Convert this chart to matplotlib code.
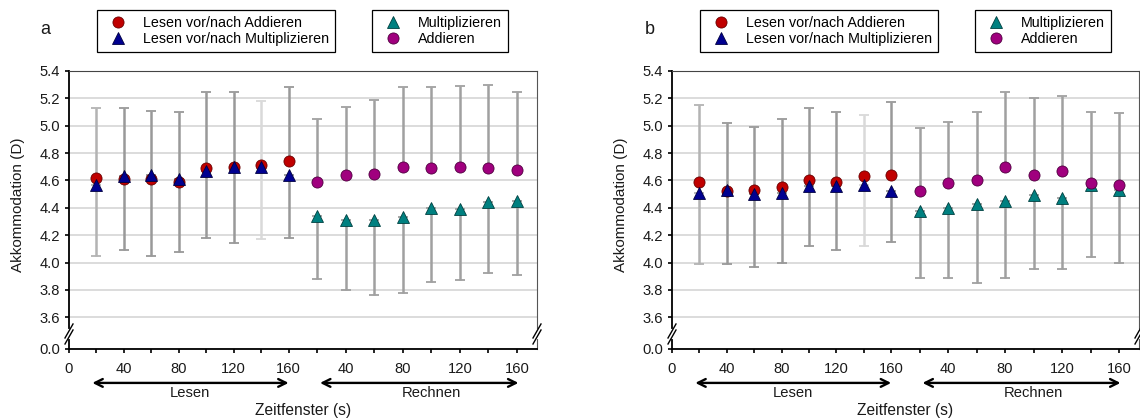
import numpy as np
import matplotlib
matplotlib.use("Agg")
import matplotlib.pyplot as plt
from matplotlib.lines import Line2D
from matplotlib.ticker import FixedLocator, FixedFormatter

plt.rcParams['font.family'] = ['Liberation Sans', 'DejaVu Sans']

# time windows (s); Rechnen follows after the 160 s of Lesen on the same axis
lesen_t = [20, 40, 60, 80, 100, 120, 140, 160]
rechnen_t = [20, 40, 60, 80, 100, 120, 140, 160]
rechnen_x = [160 + t for t in rechnen_t]

# panel a
a_les_add = [4.62, 4.61, 4.61, 4.59, 4.69, 4.70, 4.71, 4.74]
a_les_mul = [4.57, 4.63, 4.64, 4.61, 4.67, 4.70, 4.70, 4.64]
a_les_hi = [5.13, 5.13, 5.11, 5.10, 5.25, 5.25, 5.18, 5.28]
a_les_lo = [4.05, 4.09, 4.05, 4.08, 4.18, 4.14, 4.17, 4.18]
a_mul = [4.34, 4.31, 4.31, 4.33, 4.40, 4.39, 4.44, 4.45]
a_add = [4.59, 4.64, 4.65, 4.70, 4.69, 4.70, 4.69, 4.68]
a_rech_hi = [5.05, 5.14, 5.19, 5.28, 5.28, 5.29, 5.30, 5.25]
a_rech_lo = [3.88, 3.80, 3.76, 3.78, 3.86, 3.87, 3.92, 3.91]

# panel b
b_les_add = [4.59, 4.52, 4.53, 4.55, 4.60, 4.59, 4.63, 4.64]
b_les_mul = [4.51, 4.53, 4.50, 4.51, 4.56, 4.56, 4.57, 4.52]
b_les_hi = [5.15, 5.02, 4.99, 5.05, 5.13, 5.10, 5.08, 5.17]
b_les_lo = [3.99, 3.99, 3.97, 4.00, 4.12, 4.09, 4.12, 4.15]
b_mul = [4.38, 4.40, 4.43, 4.45, 4.49, 4.47, 4.57, 4.53]
b_add = [4.52, 4.58, 4.60, 4.70, 4.64, 4.67, 4.58, 4.57]
b_rech_hi = [4.98, 5.03, 5.10, 5.25, 5.20, 5.22, 5.10, 5.09]
b_rech_lo = [3.89, 3.89, 3.85, 3.89, 3.95, 3.95, 4.04, 4.00]

x_ticks = [0, 20, 40, 60, 80, 100, 120, 140, 160, 180, 200, 220, 240, 260, 280, 300, 320]
x_labels = ['0', '', '40', '', '80', '', '120', '', '160', '', '40', '', '80', '', '120', '', '160']
y_ticks = [0.0, 3.6, 3.8, 4.0, 4.2, 4.4, 4.6, 4.8, 5.0, 5.2, 5.4]

C_RED = '#c00000'
C_BLUE = '#000090'
C_TEAL = '#008080'
C_MAG = '#a0007e'
C_TXT = '#1a1a1a'
FS = 10.3


# the Rechnen part of the original axis is drawn a little wider
def x_fwd(x):
    x = np.asarray(x, float)
    return np.where(x <= 160, x, 160 + (x - 160) * 1.04)


def x_inv(v):
    v = np.asarray(v, float)
    return np.where(v <= 160, v, 160 + (v - 160) / 1.04)


# broken y axis: 0.0 squeezed in just below 3.6
def y_fwd(y):
    y = np.asarray(y, float)
    return np.where(y >= 3.5, y, 3.368 + y * 0.132 / 3.5)


def y_inv(v):
    v = np.asarray(v, float)
    return np.where(v >= 3.5, v, (v - 3.368) * 3.5 / 0.132)


def up_bars(ax, x, y, hi, colors):
    for xi, yi, hv, c in zip(x, y, hi, colors):
        ax.errorbar(xi, yi, yerr=[[0], [hv - yi]], fmt='none', ecolor=c,
                    elinewidth=1.8, capsize=3.5, capthick=1.3, zorder=2)


def down_bars(ax, x, y, lo, colors):
    for xi, yi, lv, c in zip(x, y, lo, colors):
        ax.errorbar(xi, yi, yerr=[[yi - lv], [0]], fmt='none', ecolor=c,
                    elinewidth=1.8, capsize=3.5, capthick=1.3, zorder=2)


def draw_break(ax, xf):
    y0 = 0.054
    dx, dy = 4 / 468, 7 / 278
    gap = 3 / 278
    ax.plot([xf, xf], [y0 - gap, y0 + gap], color='white', lw=3,
            transform=ax.transAxes, clip_on=False, zorder=6)
    for off in (-gap, gap):
        ax.plot([xf - dx, xf + dx], [y0 + off - dy, y0 + off + dy], color='black',
                lw=1, transform=ax.transAxes, clip_on=False, zorder=7)


def make_panel(ax, les_add, les_mul, les_hi, les_lo, mul, add, rech_hi, rech_lo):
    ax.set_xscale('function', functions=(x_fwd, x_inv))
    ax.set_yscale('function', functions=(y_fwd, y_inv))

    les_cols = ['#b3b3b3', '#999999', '#999999', '#999999', '#999999', '#999999', '#d9d9d9', '#999999']
    up_bars(ax, lesen_t, les_add, les_hi, les_cols)
    down_bars(ax, lesen_t, les_mul, les_lo, les_cols)
    up_bars(ax, rechnen_x, add, rech_hi, ['#a0a0a0'] * 8)
    down_bars(ax, rechnen_x, mul, rech_lo, ['#a0a0a0'] * 8)

    ax.plot(lesen_t, les_add, 'o', ms=8, mfc=C_RED, mec='#6a0000', mew=0.6, zorder=3)
    ax.plot(lesen_t, les_mul, '^', ms=8, mfc=C_BLUE, mec='#000040', mew=0.6, zorder=4)
    ax.plot(rechnen_x, mul, '^', ms=8, mfc=C_TEAL, mec='#004040', mew=0.6, zorder=3)
    ax.plot(rechnen_x, add, 'o', ms=8, mfc=C_MAG, mec='#500040', mew=0.6, zorder=4)

    ax.set_xlim(0, 334)
    ax.set_ylim(0, 5.4)
    ax.xaxis.set_major_locator(FixedLocator(x_ticks))
    ax.xaxis.set_major_formatter(FixedFormatter(x_labels))
    ax.xaxis.set_minor_locator(FixedLocator([]))
    ax.yaxis.set_major_locator(FixedLocator(y_ticks))
    ax.yaxis.set_major_formatter(FixedFormatter(['%.1f' % v for v in y_ticks]))
    ax.yaxis.set_minor_locator(FixedLocator([]))
    ax.tick_params(axis='both', labelsize=FS + 0.3, labelcolor=C_TXT, length=3, width=1.2, direction='out')
    ax.tick_params(axis='x', pad=6.5)
    ax.tick_params(axis='y', pad=3.5)
    ax.grid(axis='y', color='#d9d9d9', lw=1.3, zorder=0)
    ax.set_axisbelow(True)

    ax.spines['left'].set_linewidth(1.3)
    ax.spines['bottom'].set_linewidth(1.3)
    ax.spines['top'].set_color('#444444')
    ax.spines['right'].set_color('#555555')

    draw_break(ax, 0.0)
    draw_break(ax, 1.0)

    ax.set_ylabel('Akkommodation (D)', fontsize=11, color=C_TXT)
    ax.yaxis.set_label_coords(-0.094, 0.52)
    ax.text(0.5, -0.223, 'Zeitfenster (s)', transform=ax.transAxes, ha='center', va='center',
            fontsize=11.2, color=C_TXT)

    trans = ax.get_xaxis_transform()
    for x0, x1, xm, name in [(17, 160, 88, 'Lesen'), (182, 321, 260, 'Rechnen')]:
        ax.annotate('', xy=(x0, -0.122), xytext=(x1, -0.122), xycoords=trans, textcoords=trans,
                    arrowprops=dict(arrowstyle='<->', color='black', lw=1.7,
                                    mutation_scale=14, shrinkA=0, shrinkB=0))
        ax.text(xm, -0.158, name, transform=trans, ha='center', va='center',
                fontsize=FS + 0.3, color=C_TXT)


def add_legends(fig, ax, x1, x2, lab_up, lab_down, col_up, col_down, lab3, lab4):
    kw = dict(loc='upper left', bbox_transform=fig.transFigure, fontsize=FS,
              borderpad=0.4, handlelength=2.14, handletextpad=0.68, labelspacing=0.19,
              borderaxespad=0, fancybox=False, edgecolor='black', framealpha=1)
    h1 = [Line2D([], [], ls='none', marker='o', ms=8, mfc=col_up, mec='#6a0000', mew=0.6),
          Line2D([], [], ls='none', marker='^', ms=8, mfc=col_down, mec='#000040', mew=0.6)]
    leg1 = ax.legend(h1, [lab_up, lab_down], bbox_to_anchor=(x1 / 1140, 1 - 10 / 420), **kw)
    leg1.get_frame().set_linewidth(0.9)
    ax.add_artist(leg1)
    h2 = [Line2D([], [], ls='none', marker='^', ms=8, mfc=C_TEAL, mec='#004040', mew=0.6),
          Line2D([], [], ls='none', marker='o', ms=8, mfc=C_MAG, mec='#500040', mew=0.6)]
    leg2 = ax.legend(h2, [lab3, lab4], bbox_to_anchor=(x2 / 1140, 1 - 10 / 420), **kw)
    leg2.get_frame().set_linewidth(0.9)


fig = plt.figure(figsize=(11.4, 4.2), dpi=100)
ax_a = fig.add_axes([69 / 1140, 71 / 420, 468 / 1140, 278 / 420])
ax_b = fig.add_axes([672 / 1140, 71 / 420, 467 / 1140, 278 / 420])

make_panel(ax_a, a_les_add, a_les_mul, a_les_hi, a_les_lo, a_mul, a_add, a_rech_hi, a_rech_lo)
make_panel(ax_b, b_les_add, b_les_mul, b_les_hi, b_les_lo, b_mul, b_add, b_rech_hi, b_rech_lo)

for ax, x1, x2 in [(ax_a, 97, 372), (ax_b, 700, 975)]:
    add_legends(fig, ax, x1, x2, 'Lesen vor/nach Addieren', 'Lesen vor/nach Multiplizieren',
                C_RED, C_BLUE, 'Multiplizieren', 'Addieren')

fig.text(45 / 1140, 1 - 29 / 420, 'a', fontsize=13, ha='center', va='center', color=C_TXT)
fig.text(650 / 1140, 1 - 29 / 420, 'b', fontsize=13, ha='center', va='center', color=C_TXT)

fig.savefig('out.png', dpi=100)
